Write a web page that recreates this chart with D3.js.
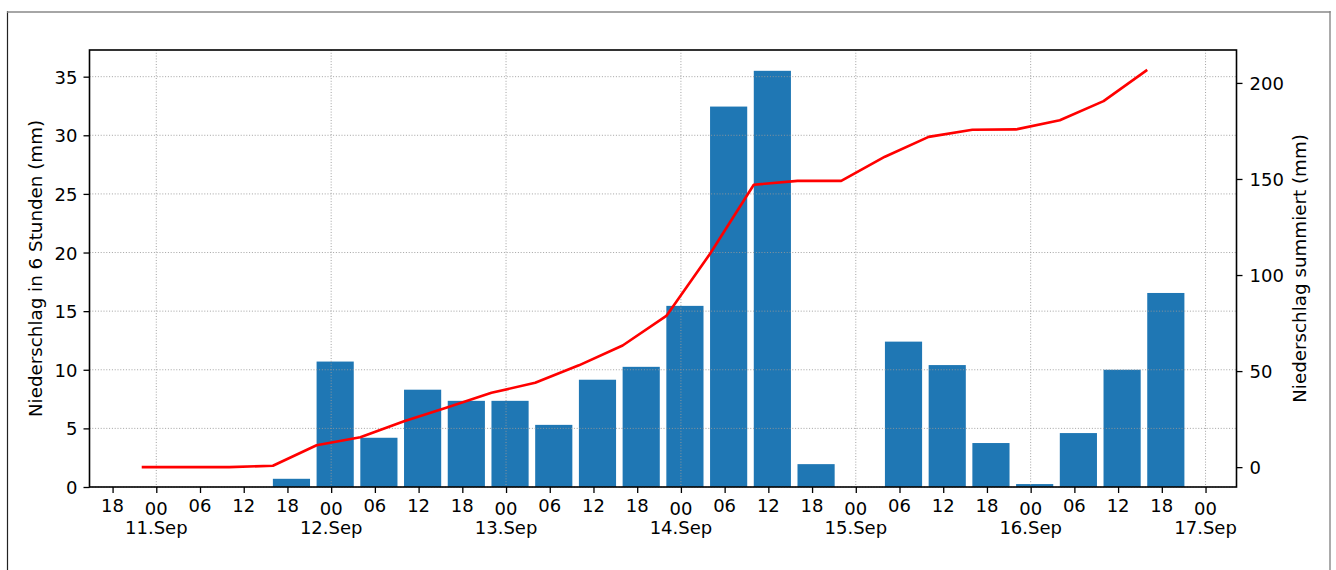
<!DOCTYPE html>
<html>
<head>
<meta charset="utf-8">
<script src="https://cdn.jsdelivr.net/npm/d3@7"></script>
<style>
html,body{margin:0;padding:0;background:#fff;}
svg{display:block;}
text{font-family:"DejaVu Sans",sans-serif;fill:#000;}
</style>
</head>
<body>
<svg id="chart" width="1336" height="570"></svg>
<script>
// ---- data (6-hour steps starting 11.Sep 00) ----
const stepLabels = ["11.Sep 00","11.Sep 06","11.Sep 12","11.Sep 18",
  "12.Sep 00","12.Sep 06","12.Sep 12","12.Sep 18",
  "13.Sep 00","13.Sep 06","13.Sep 12","13.Sep 18",
  "14.Sep 00","14.Sep 06","14.Sep 12","14.Sep 18",
  "15.Sep 00","15.Sep 06","15.Sep 12","15.Sep 18",
  "16.Sep 00","16.Sep 06","16.Sep 12","16.Sep 18"];
const precip6h = [0,0,0,0.7, 10.7,4.2,8.3,7.35, 7.35,5.3,9.15,10.25,
  15.45,32.45,35.5,1.95, 0,12.4,10.4,3.75, 0.25,4.6,10.0,16.55];
const precipSum = [0,0,0,0.7, 11.4,15.6,23.9,31.2, 38.7,43.9,53.0,63.3,
  78.7,111.1,147.0,149.0, 149.0,161.6,171.9,175.6, 175.8,180.6,190.5,206.8];
const dayLabels = ["11.Sep","12.Sep","13.Sep","14.Sep","15.Sep","16.Sep","17.Sep"];
const hourLabels = ["00","06","12","18"];
const leftTicks = [0,5,10,15,20,25,30,35];
const rightTicks = [0,50,100,150,200];

const svg = d3.select("#chart");
const L = 89.5, R = 1236.5, T = 50, B = 487;
const H = 3600*1000;
const t0 = Date.UTC(2021,8,11,0,0);
const times = stepLabels.map((d,i) => new Date(t0 + i*6*H));

const x = d3.scaleUtc()
  .domain([new Date(t0 - 9.1667*H), new Date(t0 + 148.25*H)])
  .range([L, R]);
const yL = d3.scaleLinear().domain([0, 37.275]).range([B, T]);
const yR = d3.scaleLinear().domain([-10.34, 217.14]).range([B, T]);

// frame
svg.append("line").attr("x1",7.5).attr("x2",7.5).attr("y1",11).attr("y2",570).attr("stroke","#222").attr("stroke-width",1.2);
svg.append("line").attr("x1",7).attr("x2",1330.5).attr("y1",12).attr("y2",12).attr("stroke","#888").attr("stroke-width",1.6);
svg.append("line").attr("x1",1330).attr("x2",1330).attr("y1",11).attr("y2",570).attr("stroke","#888").attr("stroke-width",1.4);

// bars (left edge at time-2h, width 5.1h)
svg.append("g").selectAll("rect").data(precip6h).join("rect")
  .attr("x", (d,i) => x(new Date(times[i].getTime() - 2*H)))
  .attr("width", (d,i) => x(new Date(times[i].getTime() + 3.1*H)) - x(new Date(times[i].getTime() - 2*H)))
  .attr("y", d => yL(d))
  .attr("height", d => B - yL(d))
  .attr("fill", "#1f77b4");

// grid
const days = d3.range(dayLabels.length).map(i => new Date(t0 + i*24*H));
const g = svg.append("g").attr("stroke","#999").attr("stroke-width",0.9).attr("stroke-dasharray","1,1.8");
g.selectAll(".gy").data(leftTicks).join("line")
  .attr("x1",L).attr("x2",R).attr("y1",d=>yL(d)).attr("y2",d=>yL(d));
g.selectAll(".gx").data(days).join("line")
  .attr("x1",d=>x(d)).attr("x2",d=>x(d)).attr("y1",T).attr("y2",B);

// axes
const fs = 18;
const axL = svg.append("g").attr("transform",`translate(${L},0)`)
  .call(d3.axisLeft(yL).tickValues(leftTicks).tickSize(6).tickPadding(6));
const axR = svg.append("g").attr("transform",`translate(${R},0)`)
  .call(d3.axisRight(yR).tickValues(rightTicks).tickSize(6).tickPadding(7));
const xTicks = d3.utcHour.every(6).range(new Date(t0 - 6*H), new Date(t0 + 145*H));
const axB = svg.append("g").attr("transform",`translate(0,${B})`)
  .call(d3.axisBottom(x).tickValues(xTicks).tickSize(6).tickFormat(() => ""));
[axL, axR, axB].forEach(a => {
  a.select(".domain").remove();
  a.selectAll(".tick line").attr("stroke","#000").attr("stroke-width",1.3);
  a.selectAll("text").attr("font-size",fs).attr("font-family","DejaVu Sans");
});
axL.selectAll(".tick text").attr("dy","0.36em");
axR.selectAll(".tick text").attr("dy","0.36em");

// x tick labels
const xl = svg.append("g").attr("font-size",fs).attr("text-anchor","middle");
xl.selectAll(".hl").data(xTicks).join("text")
  .attr("x", d => x(d))
  .attr("y", d => d.getUTCHours() === 0 ? 514.5 : 511.5)
  .text(d => hourLabels[d.getUTCHours()/6]);
xl.selectAll(".dl").data(days).join("text")
  .attr("x", d => x(d)).attr("y", 534)
  .text((d,i) => dayLabels[i]);

// spines
svg.append("rect").attr("x",L).attr("y",T).attr("width",R-L).attr("height",B-T)
  .attr("fill","none").attr("stroke","#000").attr("stroke-width",1.6);

// cumulative line
svg.append("path").datum(precipSum)
  .attr("fill","none").attr("stroke","#ff0000").attr("stroke-width",2.6)
  .attr("stroke-linejoin","round")
  .attr("d", d3.line().x((d,i) => x(new Date(times[i].getTime() - 2*H))).y(d => yR(d)));

// axis labels
svg.append("text").attr("transform",`translate(42,268.5) rotate(-90)`)
  .attr("text-anchor","middle").attr("font-size",18.3)
  .text("Niederschlag in 6 Stunden (mm)");
svg.append("text").attr("transform",`translate(1306,268.5) rotate(-90)`)
  .attr("text-anchor","middle").attr("font-size",18.3)
  .text("Niederschlag summiert (mm)");
</script>
</body>
</html>
